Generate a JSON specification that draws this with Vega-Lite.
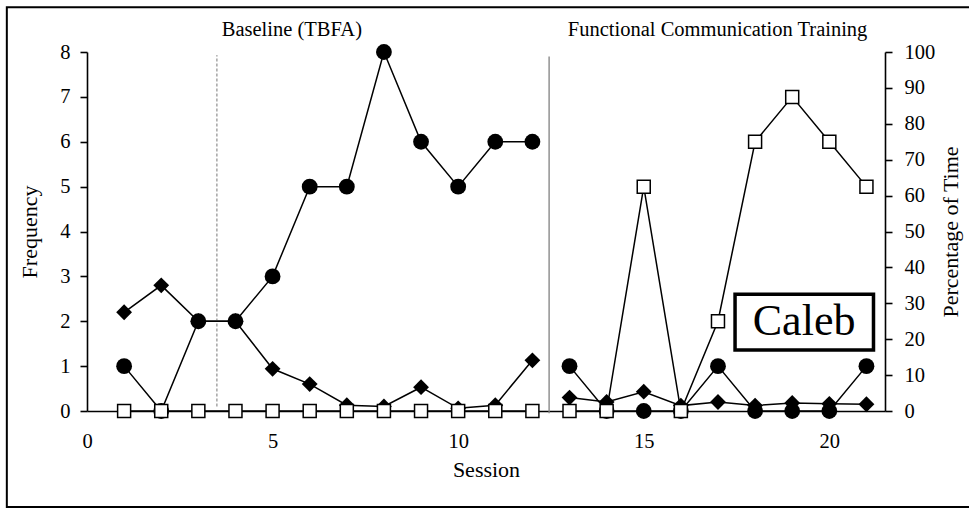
{
  "$schema": "https://vega.github.io/schema/vega-lite/v6.json",
  "width": 798,
  "height": 359,
  "autosize": "none",
  "padding": {"left": 87, "top": 52, "right": 84, "bottom": 97},
  "background": "white",
  "config": {
    "view": {"stroke": null},
    "font": "Liberation Serif",
    "axis": {
      "grid": false,
      "domainColor": "black",
      "domainWidth": 1.6,
      "tickColor": "black",
      "tickWidth": 1.6,
      "tickSize": 7,
      "labelFont": "Liberation Serif",
      "labelFontSize": 20.5,
      "labelColor": "black",
      "titleFont": "Liberation Serif",
      "titleFontSize": 22,
      "titleFontWeight": "normal",
      "titleColor": "black"
    }
  },
  "datasets": {
    "circles": [
      {"session": 1, "value": 1, "phase": "BL"},
      {"session": 2, "value": 0, "phase": "BL"},
      {"session": 3, "value": 2, "phase": "BL"},
      {"session": 4, "value": 2, "phase": "BL"},
      {"session": 5, "value": 3, "phase": "BL"},
      {"session": 6, "value": 5, "phase": "BL"},
      {"session": 7, "value": 5, "phase": "BL"},
      {"session": 8, "value": 8, "phase": "BL"},
      {"session": 9, "value": 6, "phase": "BL"},
      {"session": 10, "value": 5, "phase": "BL"},
      {"session": 11, "value": 6, "phase": "BL"},
      {"session": 12, "value": 6, "phase": "BL"},
      {"session": 13, "value": 1, "phase": "FCT"},
      {"session": 14, "value": 0, "phase": "FCT"},
      {"session": 15, "value": 0, "phase": "FCT"},
      {"session": 16, "value": 0, "phase": "FCT"},
      {"session": 17, "value": 1, "phase": "FCT"},
      {"session": 18, "value": 0, "phase": "FCT"},
      {"session": 19, "value": 0, "phase": "FCT"},
      {"session": 20, "value": 0, "phase": "FCT"},
      {"session": 21, "value": 1, "phase": "FCT"}
    ],
    "diamonds": [
      {"session": 1, "value": 2.2, "phase": "BL"},
      {"session": 2, "value": 2.8, "phase": "BL"},
      {"session": 3, "value": 2.0, "phase": "BL"},
      {"session": 4, "value": 2.0, "phase": "BL"},
      {"session": 5, "value": 0.94, "phase": "BL"},
      {"session": 6, "value": 0.6, "phase": "BL"},
      {"session": 7, "value": 0.13, "phase": "BL"},
      {"session": 8, "value": 0.1, "phase": "BL"},
      {"session": 9, "value": 0.53, "phase": "BL"},
      {"session": 10, "value": 0.06, "phase": "BL"},
      {"session": 11, "value": 0.13, "phase": "BL"},
      {"session": 12, "value": 1.13, "phase": "BL"},
      {"session": 13, "value": 0.3, "phase": "FCT"},
      {"session": 14, "value": 0.2, "phase": "FCT"},
      {"session": 15, "value": 0.43, "phase": "FCT"},
      {"session": 16, "value": 0.12, "phase": "FCT"},
      {"session": 17, "value": 0.2, "phase": "FCT"},
      {"session": 18, "value": 0.12, "phase": "FCT"},
      {"session": 19, "value": 0.18, "phase": "FCT"},
      {"session": 20, "value": 0.16, "phase": "FCT"},
      {"session": 21, "value": 0.15, "phase": "FCT"}
    ],
    "squares": [
      {"session": 1, "pct": 0, "phase": "BL"},
      {"session": 2, "pct": 0, "phase": "BL"},
      {"session": 3, "pct": 0, "phase": "BL"},
      {"session": 4, "pct": 0, "phase": "BL"},
      {"session": 5, "pct": 0, "phase": "BL"},
      {"session": 6, "pct": 0, "phase": "BL"},
      {"session": 7, "pct": 0, "phase": "BL"},
      {"session": 8, "pct": 0, "phase": "BL"},
      {"session": 9, "pct": 0, "phase": "BL"},
      {"session": 10, "pct": 0, "phase": "BL"},
      {"session": 11, "pct": 0, "phase": "BL"},
      {"session": 12, "pct": 0, "phase": "BL"},
      {"session": 13, "pct": 0, "phase": "FCT"},
      {"session": 14, "pct": 0, "phase": "FCT"},
      {"session": 15, "pct": 62.5, "phase": "FCT"},
      {"session": 16, "pct": 0, "phase": "FCT"},
      {"session": 17, "pct": 25, "phase": "FCT"},
      {"session": 18, "pct": 75, "phase": "FCT"},
      {"session": 19, "pct": 87.5, "phase": "FCT"},
      {"session": 20, "pct": 75, "phase": "FCT"},
      {"session": 21, "pct": 62.5, "phase": "FCT"}
    ],
    "one": [{"k": 1}]
  },
  "layer": [
    {
      "layer": [
        {
          "data": {"name": "circles"},
          "mark": {"type": "line", "color": "black", "strokeWidth": 1.5},
          "encoding": {
            "x": {
              "field": "session",
              "type": "quantitative",
              "scale": {"domain": [0, 21.5], "nice": false, "zero": false},
              "axis": {
                "values": [0, 5, 10, 15, 20],
                "ticks": false,
                "labelFlush": false,
                "labelPadding": 20,
                "title": "Session",
                "titlePadding": 8
              }
            },
            "y": {
              "field": "value",
              "type": "quantitative",
              "scale": {"domain": [0, 8], "nice": false},
              "axis": {
                "orient": "left",
                "values": [0, 1, 2, 3, 4, 5, 6, 7, 8],
                "labelPadding": 10,
                "title": "Frequency",
                "titlePadding": 18
              }
            },
            "detail": {"field": "phase"}
          }
        },
        {
          "data": {"name": "one"},
          "mark": {"type": "rect", "filled": false, "color": "black", "strokeWidth": 2},
          "encoding": {
            "x": {"datum": -2.16, "type": "quantitative"},
            "x2": {"datum": 30},
            "y": {"datum": 9.0, "type": "quantitative"},
            "y2": {"datum": -2.14}
          }
        },
        {
          "data": {"name": "one"},
          "mark": {"type": "rule", "color": "#777777", "strokeWidth": 1, "strokeDash": [3, 2]},
          "encoding": {
            "x": {"datum": 3.5, "type": "quantitative"},
            "y": {"datum": 0.1, "type": "quantitative"},
            "y2": {"datum": 7.93}
          }
        },
        {
          "data": {"name": "one"},
          "mark": {"type": "rule", "color": "#808080", "strokeWidth": 1.3},
          "encoding": {
            "x": {"datum": 12.45, "type": "quantitative"},
            "y": {"datum": -0.05, "type": "quantitative"},
            "y2": {"datum": 7.9}
          }
        },
        {
          "data": {"name": "one"},
          "mark": {"type": "text", "fontSize": 20.5, "color": "black", "baseline": "middle"},
          "encoding": {
            "x": {"datum": 5.52, "type": "quantitative"},
            "y": {"datum": 8.5, "type": "quantitative"},
            "text": {"value": "Baseline (TBFA)"}
          }
        },
        {
          "data": {"name": "one"},
          "mark": {"type": "text", "fontSize": 20.5, "color": "black", "baseline": "middle"},
          "encoding": {
            "x": {"datum": 16.99, "type": "quantitative"},
            "y": {"datum": 8.5, "type": "quantitative"},
            "text": {"value": "Functional Communication Training"}
          }
        },
        {
          "data": {"name": "diamonds"},
          "mark": {"type": "line", "color": "black", "strokeWidth": 1.5},
          "encoding": {
            "x": {"field": "session", "type": "quantitative"},
            "y": {"field": "value", "type": "quantitative"},
            "detail": {"field": "phase"}
          }
        },
        {
          "data": {"name": "circles"},
          "mark": {"type": "point", "shape": "circle", "filled": true, "color": "black", "size": 250, "opacity": 1},
          "encoding": {
            "x": {"field": "session", "type": "quantitative"},
            "y": {"field": "value", "type": "quantitative"}
          }
        },
        {
          "data": {"name": "diamonds"},
          "mark": {"type": "point", "shape": "diamond", "filled": true, "color": "black", "size": 250, "opacity": 1},
          "encoding": {
            "x": {"field": "session", "type": "quantitative"},
            "y": {"field": "value", "type": "quantitative"}
          }
        },
        {
          "data": {"name": "one"},
          "mark": {"type": "rect", "fill": "white", "stroke": "black", "strokeWidth": 3.5},
          "encoding": {
            "x": {"datum": 17.46, "type": "quantitative"},
            "x2": {"datum": 21.19},
            "y": {"datum": 1.36, "type": "quantitative"},
            "y2": {"datum": 2.6}
          }
        },
        {
          "data": {"name": "one"},
          "mark": {"type": "text", "fontSize": 44, "color": "black", "baseline": "middle"},
          "encoding": {
            "x": {"datum": 19.32, "type": "quantitative"},
            "y": {"datum": 1.98, "type": "quantitative"},
            "text": {"value": "Caleb"}
          }
        }
      ]
    },
    {
      "data": {"name": "squares"},
      "encoding": {
        "x": {"field": "session", "type": "quantitative"},
        "y": {
          "field": "pct",
          "type": "quantitative",
          "scale": {"domain": [0, 100], "nice": false},
          "axis": {
            "orient": "right",
            "values": [0, 10, 20, 30, 40, 50, 60, 70, 80, 90, 100],
            "labelPadding": 12,
            "title": "Percentage of Time",
            "titleAngle": 270,
            "titlePadding": 28
          }
        }
      },
      "layer": [
        {
          "mark": {"type": "line", "color": "black", "strokeWidth": 1.5},
          "encoding": {"detail": {"field": "phase"}}
        },
        {
          "mark": {"type": "point", "shape": "square", "filled": true, "fill": "white", "stroke": "black", "strokeWidth": 1.5, "size": 169, "opacity": 1}
        }
      ]
    }
  ],
  "resolve": {"scale": {"y": "independent"}}
}
